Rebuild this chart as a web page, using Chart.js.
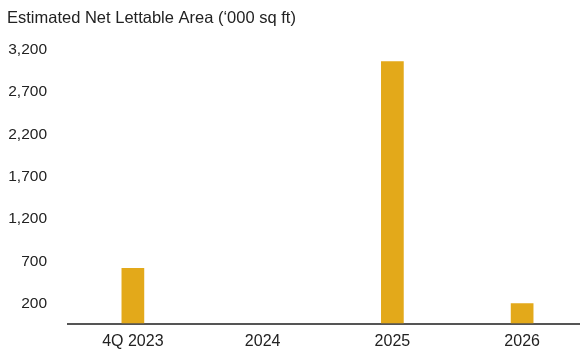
<!DOCTYPE html>
<html>
<head>
<meta charset="utf-8">
<script src="https://cdn.jsdelivr.net/npm/chart.js@4"></script>
<style>
  html, body { margin: 0; padding: 0; background: #fff; overflow: hidden; }
  canvas { display: block; }
</style>
</head>
<body>
<canvas id="nlaChart" width="587" height="349"></canvas>
<script>
const categories = ['4Q 2023', '2024', '2025', '2026'];
const nlaValues = [655, 0, 3100, 240];
const tickValues = [200, 700, 1200, 1700, 2200, 2700, 3200];
const titleText = "Estimated Net Lettable Area (\u2018000 sq ft)";

const textColor = '#222222';
const barColor = '#E3A91A';

Chart.defaults.font.family = '"Liberation Sans", Arial, sans-serif';
Chart.defaults.font.size = 15;
Chart.defaults.color = textColor;

new Chart(document.getElementById('nlaChart'), {
  type: 'bar',
  data: {
    labels: categories,
    datasets: [{
      data: nlaValues,
      backgroundColor: barColor,
      barPercentage: 1,
      categoryPercentage: 0.175
    }]
  },
  options: {
    responsive: false,
    animation: false,
    layout: { padding: { left: 7, right: 0, top: 0, bottom: 0 } },
    plugins: {
      legend: { display: false },
      tooltip: { enabled: false },
      title: {
        display: true,
        text: titleText,
        align: 'start',
        color: textColor,
        font: { size: 16.5, weight: 'normal' },
        padding: { top: 9, bottom: 24 }
      }
    },
    scales: {
      x: {
        grid: { display: false, drawTicks: false },
        border: { display: true, color: '#555555', width: 2 },
        ticks: { padding: 8.5, color: textColor, font: { size: 16 } },
        afterFit: function (scale) { scale.height = 25.5; }
      },
      y: {
        min: 0,
        max: 3200,
        afterBuildTicks: function (axis) {
          axis.ticks = tickValues.map(v => ({ value: v }));
        },
        grid: { display: false, drawTicks: false },
        border: { display: false },
        ticks: {
          padding: 21,
          labelOffset: -3,
          color: textColor,
          font: { size: 15.5 },
          callback: v => v.toLocaleString('en-US')
        },
        // tick padding also pads the axis top/bottom, drop that
        afterFit: function (scale) {
          scale.width = 61;
          scale.paddingTop = 0;
          scale.paddingBottom = 0;
        }
      }
    }
  }
});
</script>
</body>
</html>
